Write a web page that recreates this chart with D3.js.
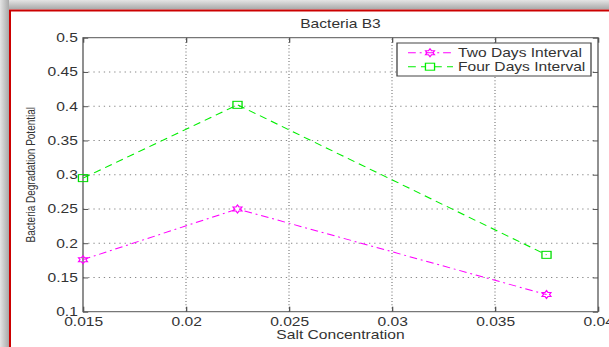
<!DOCTYPE html>
<html>
<head>
<meta charset="utf-8">
<script src="https://cdn.jsdelivr.net/npm/d3@7"></script>
<style>
  body { margin: 0; background: #fff; }
  text { font-family: "Liberation Sans", Arial, sans-serif; fill: #333; }
</style>
</head>
<body>
<div class="chart"></div>
<script>
const salt = [0.015, 0.0225, 0.0375];
const twoDays = [0.176, 0.25, 0.125];
const fourDays = [0.295, 0.402, 0.183];
const xTicks = [0.015, 0.02, 0.025, 0.03, 0.035, 0.04];
const yTicks = [0.1, 0.15, 0.2, 0.25, 0.3, 0.35, 0.4, 0.45, 0.5];
const seriesNames = ["Two Days Interval", "Four Days Interval"];

const W = 609, H = 347;
const sx = 1.3; // the picture is stretched sideways

const svg = d3.select('.chart').append('svg')
  .attr('width', W)
  .attr('height', H);

// window frame: grey shade on top / left, red rule
const defs = svg.append('defs');
const gTop = defs.append('linearGradient').attr('id', 'shTop').attr('x1', 0).attr('y1', 0).attr('x2', 0).attr('y2', 1);
gTop.append('stop').attr('offset', '0%').attr('stop-color', '#e4e4e4');
gTop.append('stop').attr('offset', '100%').attr('stop-color', '#a8a8a8');
const gLeft = defs.append('linearGradient').attr('id', 'shLeft').attr('x1', 0).attr('y1', 0).attr('x2', 1).attr('y2', 0);
gLeft.append('stop').attr('offset', '0%').attr('stop-color', '#e4e4e4');
gLeft.append('stop').attr('offset', '100%').attr('stop-color', '#a8a8a8');

svg.append('rect').attr('x', 0).attr('y', 0).attr('width', W).attr('height', 9.5).attr('fill', 'url(#shTop)');
svg.append('rect').attr('x', 0).attr('y', 0).attr('width', 9).attr('height', H).attr('fill', 'url(#shLeft)');
svg.append('line').attr('x1', 9).attr('x2', W).attr('y1', 10.5).attr('y2', 10.5).attr('stroke', '#cc0000').attr('stroke-width', 2);
svg.append('line').attr('x1', 10).attr('x2', 10).attr('y1', 10).attr('y2', H).attr('stroke', '#cc0000').attr('stroke-width', 2);

const g = svg.append('g').attr('transform', `scale(${sx},1)`);

const x = d3.scaleLinear().domain([0.015, 0.04]).range([83 / sx, 598 / sx]);
const y = d3.scaleLinear().domain([0.1, 0.5]).range([311.7, 37.7]);
const fmt = d => String(+d.toFixed(4));

const [x0, x1] = x.range();
const [y0, y1] = y.range();

// grid
g.append('g').selectAll('line')
  .data(xTicks.slice(1, -1)).enter().append('line')
  .attr('x1', d => x(d)).attr('x2', d => x(d))
  .attr('y1', y0).attr('y2', y1)
  .attr('stroke', '#888').attr('stroke-dasharray', '1,2.2');
g.append('g').selectAll('line')
  .data(yTicks.slice(1, -1)).enter().append('line')
  .attr('x1', x0).attr('x2', x1)
  .attr('y1', d => y(d)).attr('y2', d => y(d))
  .attr('stroke', '#888').attr('stroke-dasharray', '1,3');

// axes, ticks pointing inward on every side
const axisStyle = sel => {
  sel.select('.domain').remove();
  sel.selectAll('line').attr('stroke', '#555');
  sel.selectAll('text').attr('font-size', 12).attr('fill', '#333');
};
g.append('g').attr('transform', `translate(0,${y0})`)
  .call(d3.axisBottom(x).tickValues(xTicks).tickFormat(fmt).tickSizeInner(-5).tickSizeOuter(0).tickPadding(6))
  .call(axisStyle);
g.append('g').attr('transform', `translate(0,${y1})`)
  .call(d3.axisTop(x).tickValues(xTicks).tickFormat('').tickSizeInner(-5).tickSizeOuter(0))
  .call(axisStyle);
g.append('g').attr('transform', `translate(${x0},0)`)
  .call(d3.axisLeft(y).tickValues(yTicks).tickFormat(fmt).tickSizeInner(-4).tickSizeOuter(0).tickPadding(4))
  .call(axisStyle);
g.append('g').attr('transform', `translate(${x1},0)`)
  .call(d3.axisRight(y).tickValues(yTicks).tickFormat('').tickSizeInner(-4).tickSizeOuter(0))
  .call(axisStyle);

g.append('rect')
  .attr('x', x0).attr('y', y1)
  .attr('width', x1 - x0).attr('height', y0 - y1)
  .attr('fill', 'none').attr('stroke', '#555').attr('stroke-width', 1);

// series
const line = d3.line().x(d => x(d[0])).y(d => y(d[1]));
const twoData = salt.map((s, i) => [s, twoDays[i]]);
const fourData = salt.map((s, i) => [s, fourDays[i]]);

const hexagram = r => {
  const pts = [];
  for (let k = 0; k < 12; k++) {
    const a = -Math.PI / 2 + k * Math.PI / 6;
    const rr = k % 2 === 0 ? r : r * 0.58;
    pts.push([rr * Math.cos(a), rr * Math.sin(a)]);
  }
  return 'M' + pts.map(p => p.join(',')).join('L') + 'Z';
};

g.append('path').datum(twoData)
  .attr('d', line).attr('fill', 'none')
  .attr('stroke', '#ff00ff').attr('stroke-width', 1)
  .attr('stroke-dasharray', '6,3,1.5,3');
g.append('g').selectAll('path')
  .data(twoData).enter().append('path')
  .attr('d', hexagram(4))
  .attr('transform', d => `translate(${x(d[0])},${y(d[1])})`)
  .attr('fill', 'none').attr('stroke', '#ff00ff').attr('stroke-width', 1);

g.append('path').datum(fourData)
  .attr('d', line).attr('fill', 'none')
  .attr('stroke', '#00ee00').attr('stroke-width', 1)
  .attr('stroke-dasharray', '6,4');
g.append('g').selectAll('rect')
  .data(fourData).enter().append('rect')
  .attr('x', d => x(d[0]) - 3.5).attr('y', d => y(d[1]) - 3.5)
  .attr('width', 7).attr('height', 7)
  .attr('fill', 'none').attr('stroke', '#00dd00').attr('stroke-width', 1);

// legend
const lg = g.append('g');
lg.append('rect')
  .attr('x', 397 / sx).attr('y', 43)
  .attr('width', (591 - 397) / sx).attr('height', 33)
  .attr('fill', '#fff').attr('stroke', '#444');
const legendRows = [
  { name: seriesNames[0], color: '#ff00ff', dash: '6,3,1.5,3', mark: 'hex', yy: 52.7 },
  { name: seriesNames[1], color: '#00ee00', dash: '6,4', mark: 'sq', yy: 66.7 }
];
legendRows.forEach(r => {
  lg.append('line')
    .attr('x1', 408 / sx).attr('x2', 453 / sx)
    .attr('y1', r.yy).attr('y2', r.yy)
    .attr('stroke', r.color).attr('stroke-dasharray', r.dash);
  const cx = 430 / sx;
  if (r.mark === 'hex') {
    lg.append('path').attr('d', hexagram(4))
      .attr('transform', `translate(${cx},${r.yy})`)
      .attr('fill', 'none').attr('stroke', r.color);
  } else {
    lg.append('rect').attr('x', cx - 3.5).attr('y', r.yy - 3.5)
      .attr('width', 7).attr('height', 7)
      .attr('fill', '#fff').attr('stroke', r.color);
  }
  lg.append('text')
    .attr('x', 458 / sx).attr('y', r.yy).attr('dy', '0.35em')
    .attr('font-size', 12).text(r.name);
});

// titles
g.append('text')
  .attr('x', (x0 + x1) / 2).attr('y', 28.5)
  .attr('text-anchor', 'middle').attr('font-size', 12)
  .text('Bacteria B3');
g.append('text')
  .attr('x', (x0 + x1) / 2).attr('y', 339)
  .attr('text-anchor', 'middle').attr('font-size', 12)
  .text('Salt Concentration');
g.append('text')
  .attr('transform', `translate(${35 / sx},${(y0 + y1) / 2}) rotate(-90)`)
  .attr('text-anchor', 'middle').attr('font-size', 10)
  .text('Bacteria Degradation Potential');
</script>
</body>
</html>
